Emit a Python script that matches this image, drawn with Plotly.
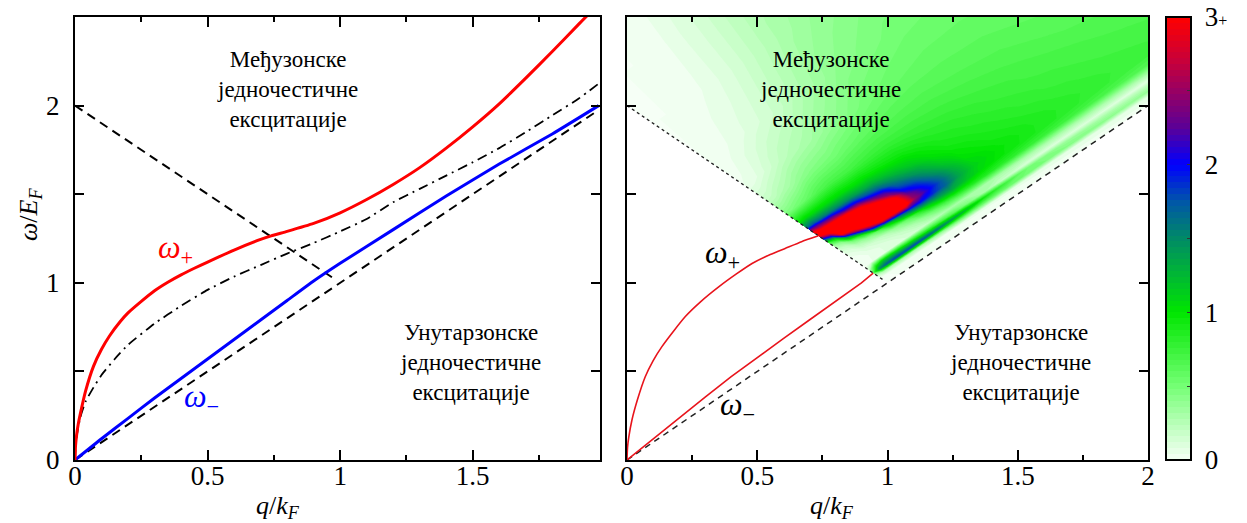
import numpy as np
import plotly.graph_objects as go

# ---------------- left panel: plasmon dispersions (q/kF, ω/EF) ----------------
q_plus_l = [0, 0.002, 0.006, 0.012, 0.02, 0.04, 0.07, 0.1, 0.13, 0.17, 0.2, 0.25, 0.3, 0.35,
            0.4, 0.45, 0.5, 0.6, 0.7, 0.74, 0.8, 0.9, 1.0, 1.1, 1.2, 1.3, 1.4, 1.5, 1.6, 1.7,
            1.8, 1.9, 1.96]
w_plus_l = [0, 0.08, 0.14, 0.2, 0.26, 0.39, 0.53, 0.625, 0.70, 0.78, 0.83, 0.895, 0.955, 1.003,
            1.045, 1.082, 1.117, 1.185, 1.245, 1.265, 1.29, 1.335, 1.395, 1.47, 1.555, 1.65,
            1.76, 1.88, 2.01, 2.155, 2.305, 2.46, 2.55]

q_minus_l = [0, 0.1, 0.2, 0.3, 0.4, 0.5, 0.6, 0.7, 0.8, 0.9, 1.0, 1.2, 1.4, 1.6, 1.8, 1.975]
w_minus_l = [0, 0.12, 0.235, 0.35, 0.46, 0.57, 0.68, 0.79, 0.90, 1.01, 1.11, 1.30, 1.49,
             1.67, 1.84, 2.0]

q_single = [0, 0.005, 0.02, 0.04, 0.07, 0.1, 0.15, 0.2, 0.3, 0.4, 0.5, 0.6, 0.7, 0.8, 0.9,
            1.0, 1.1, 1.2, 1.3, 1.4, 1.5, 1.6, 1.7, 1.8, 1.9, 1.98]
w_single = [0, 0.12, 0.24, 0.33, 0.41, 0.48, 0.57, 0.65, 0.77, 0.87, 0.96, 1.035, 1.10, 1.165,
            1.225, 1.29, 1.36, 1.455, 1.53, 1.605, 1.68, 1.76, 1.85, 1.945, 2.04, 2.13]

# particle-hole continuum edges
q_inter_edge_l = [0, 0.975]
w_inter_edge_l = [2, 1.025]
q_intra_edge_l = [0, 1.975]
w_intra_edge_l = [0, 1.975]

# ---------------- right panel ----------------
q_plus_r = [0, 0.002, 0.007, 0.019, 0.04, 0.07, 0.1, 0.134, 0.18, 0.224, 0.28, 0.352, 0.42,
            0.48, 0.55, 0.607, 0.67, 0.735]
w_plus_r = [0, 0.07, 0.13, 0.226, 0.34, 0.47, 0.56, 0.64, 0.73, 0.81, 0.89, 0.977, 1.05,
            1.109, 1.16, 1.194, 1.232, 1.265]

q_minus_r = [0, 0.1, 0.2, 0.3, 0.4, 0.5, 0.6, 0.7, 0.8, 0.9, 0.945]
w_minus_r = [0, 0.12, 0.24, 0.355, 0.47, 0.58, 0.685, 0.79, 0.895, 1.0, 1.055]

q_inter_edge_r = [0, 0.985]
w_inter_edge_r = [2, 1.015]
q_intra_edge_r = [0, 2]
w_intra_edge_r = [0, 2]

# loss function tabulated in continuum coordinates:
#   u = ω - q (height above the intraband edge), v = ω + q (interband edge at v = 2)
u_grid = [0.0, 0.05, 0.08, 0.11, 0.14, 0.18, 0.23, 0.28, 0.33, 0.37, 0.41, 0.45, 0.49, 0.53,
          0.57, 0.62, 0.68, 0.78, 0.92, 1.1, 1.4, 1.8, 2.2, 2.6]
v_grid = [2.0, 2.05, 2.1, 2.17, 2.25, 2.33, 2.42, 2.5, 2.58, 2.67, 2.77, 2.88, 3.0, 3.2, 3.45,
          3.75, 4.1, 4.6]
loss = [
    # v = 2.0
    [0, 0, 0.15, 0.6, 0.2, 0, 0, 0.03, 0.08, 0.15, 0.3, 0.7, 1.8, 3.1, 3.0, 1.6, 1.0, 0.45, 0.2, 0.04, 0, 0, 0, 0],
    # v = 2.05
    [0, 0, 0.3, 1.5, 0.9, 0.03, 0.02, 0.05, 0.12, 0.22, 0.45, 1.1, 2.5, 3.6, 2.7, 1.7, 1.05, 0.48, 0.22, 0.05, 0.01, 0, 0, 0],
    # v = 2.1
    [0, 0.01, 0.3, 1.7, 1.2, 0.06, 0.05, 0.1, 0.25, 0.5, 1.3, 3.1, 3.7, 3.6, 2.6, 1.6, 1.05, 0.52, 0.27, 0.08, 0.02, 0, 0, 0],
    # v = 2.17
    [0, 0.02, 0.3, 1.8, 1.2, 0.08, 0.08, 0.15, 0.38, 0.9, 2.5, 3.5, 3.8, 3.4, 2.5, 1.55, 1.05, 0.58, 0.32, 0.13, 0.04, 0.01, 0, 0],
    # v = 2.25
    [0, 0.02, 0.3, 1.8, 1.1, 0.1, 0.12, 0.22, 0.6, 2.2, 3.5, 3.8, 3.7, 3.3, 2.2, 1.5, 1.05, 0.66, 0.4, 0.19, 0.06, 0.02, 0, 0],
    # v = 2.33
    [0, 0.02, 0.3, 1.8, 1.0, 0.12, 0.18, 0.38, 1.1, 3.0, 3.6, 3.7, 3.5, 2.9, 2.1, 1.45, 1.05, 0.7, 0.45, 0.24, 0.09, 0.03, 0.01, 0],
    # v = 2.42
    [0, 0.03, 0.35, 1.7, 0.9, 0.15, 0.28, 0.55, 1.6, 3.2, 3.6, 3.5, 3.0, 2.3, 1.8, 1.35, 1.02, 0.71, 0.48, 0.28, 0.12, 0.05, 0.02, 0],
    # v = 2.5
    [0, 0.03, 0.4, 1.6, 0.8, 0.2, 0.4, 0.8, 1.9, 3.3, 3.3, 3.1, 2.4, 2.05, 1.65, 1.3, 1.02, 0.72, 0.5, 0.31, 0.15, 0.08, 0.04, 0.01],
    # v = 2.58
    [0, 0.04, 0.5, 1.45, 0.7, 0.25, 0.55, 1.1, 2.0, 2.5, 2.4, 2.1, 1.85, 1.65, 1.45, 1.2, 0.98, 0.74, 0.54, 0.35, 0.19, 0.11, 0.07, 0.02],
    # v = 2.67
    [0, 0.05, 0.55, 1.3, 0.6, 0.3, 0.7, 1.3, 1.9, 2.1, 2.0, 1.85, 1.65, 1.45, 1.28, 1.12, 0.95, 0.76, 0.57, 0.39, 0.24, 0.15, 0.1, 0.05],
    # v = 2.77
    [0, 0.05, 0.55, 1.1, 0.45, 0.3, 0.8, 1.35, 1.7, 1.75, 1.65, 1.5, 1.38, 1.28, 1.15, 1.05, 0.93, 0.77, 0.6, 0.43, 0.29, 0.2, 0.14, 0.08],
    # v = 2.88
    [0, 0.05, 0.55, 0.9, 0.3, 0.3, 0.85, 1.2, 1.35, 1.35, 1.3, 1.2, 1.12, 1.05, 1.0, 0.95, 0.88, 0.76, 0.62, 0.48, 0.34, 0.25, 0.19, 0.11],
    # v = 3.0
    [0, 0.05, 0.55, 0.75, 0.2, 0.3, 0.85, 1.05, 1.1, 1.08, 1.03, 1.0, 0.97, 0.93, 0.9, 0.87, 0.83, 0.75, 0.64, 0.52, 0.4, 0.3, 0.24, 0.15],
    # v = 3.2
    [0, 0.06, 0.5, 0.5, 0.12, 0.3, 0.8, 0.95, 0.97, 0.95, 0.92, 0.9, 0.88, 0.86, 0.84, 0.82, 0.79, 0.73, 0.65, 0.56, 0.45, 0.36, 0.29, 0.2],
    # v = 3.45
    [0, 0.07, 0.45, 0.38, 0.1, 0.3, 0.75, 0.87, 0.88, 0.87, 0.85, 0.83, 0.81, 0.8, 0.78, 0.76, 0.74, 0.7, 0.64, 0.58, 0.5, 0.41, 0.34, 0.25],
    # v = 3.75
    [0, 0.08, 0.42, 0.3, 0.1, 0.3, 0.7, 0.8, 0.81, 0.8, 0.78, 0.77, 0.75, 0.74, 0.73, 0.71, 0.7, 0.67, 0.63, 0.58, 0.52, 0.45, 0.38, 0.3],
    # v = 4.1
    [0, 0.08, 0.38, 0.26, 0.08, 0.3, 0.65, 0.74, 0.75, 0.74, 0.73, 0.72, 0.71, 0.7, 0.69, 0.68, 0.66, 0.63, 0.6, 0.57, 0.52, 0.47, 0.42, 0.38],
    # v = 4.6
    [0, 0.08, 0.35, 0.24, 0.08, 0.3, 0.6, 0.69, 0.7, 0.7, 0.69, 0.68, 0.67, 0.66, 0.65, 0.64, 0.63, 0.6, 0.58, 0.55, 0.5, 0.47, 0.43, 0.4],
]

cbar_vals = [0, 0.5, 1, 1.5, 2, 2.5, 3]
cbar_text = ["\u00a00", "", "\u00a01", "", "\u00a02", "",
             "\u00a03<span style='font-size:16px'>+</span>"]

x_ticks_l = [0, 0.5, 1, 1.5]
x_ticks_r = [0, 0.5, 1, 1.5, 2]
x_minor = [0.25, 0.75, 1.25, 1.75]
y_ticks = [0, 0.5, 1, 1.5, 2, 2.5]
y_text_l = ["0", "", "1", "", "2", ""]

SERIF = "Liberation Serif"

palette = [
    [0.0, "#f6fff6"], [0.083, "#b8ffb8"], [0.167, "#74ff74"], [0.333, "#00e600"],
    [0.5, "#008a66"], [0.583, "#0056a8"], [0.667, "#0000ff"], [0.75, "#5c0096"],
    [0.9, "#c8003a"], [1.0, "#ff0000"],
]

# carpet geometry: (u, v) -> (q, ω)
U, V = np.meshgrid(u_grid, v_grid)
carpet_x = (V - U) / 2.0
carpet_y = (V + U) / 2.0

fig = go.Figure()

hidden_axis = dict(showgrid=False, showline=False, showticklabels="none", startline=False,
                   endline=False, minorgridcount=0, gridwidth=0, linewidth=0, smoothing=0)
fig.add_trace(go.Carpet(a=u_grid, b=v_grid, x=carpet_x, y=carpet_y, carpet="cone",
                        xaxis="x2", yaxis="y2", aaxis=hidden_axis, baxis=hidden_axis))
fig.add_trace(go.Contourcarpet(
    a=u_grid, b=v_grid, z=loss, carpet="cone", xaxis="x2", yaxis="y2",
    colorscale=palette, zmin=0, zmax=3, autocontour=False,
    contours=dict(start=0, end=3, size=0.04, coloring="fill", showlines=False),
    line=dict(width=0, smoothing=0),
    colorbar=dict(x=1166 / 1247, xanchor="left", xpad=0, ypad=0,
                  y=63 / 523, yanchor="bottom", len=443 / 523, lenmode="fraction",
                  thickness=25, thicknessmode="pixels",
                  outlinewidth=2, outlinecolor="black",
                  tickvals=cbar_vals, ticktext=cbar_text, ticks="inside", ticklen=5,
                  tickcolor="#333333", tickfont=dict(family=SERIF, size=27, color="black")),
))

# left panel lines
fig.add_trace(go.Scatter(x=q_inter_edge_l, y=w_inter_edge_l, mode="lines", xaxis="x", yaxis="y",
                         line=dict(color="black", width=2, dash="9px,6px")))
fig.add_trace(go.Scatter(x=q_intra_edge_l, y=w_intra_edge_l, mode="lines", xaxis="x", yaxis="y",
                         line=dict(color="black", width=2, dash="9px,6px")))
fig.add_trace(go.Scatter(x=q_single, y=w_single, mode="lines", xaxis="x", yaxis="y",
                         line=dict(color="black", width=1.8, dash="10px,5px,2px,5px",
                                   shape="spline", smoothing=0.5)))
fig.add_trace(go.Scatter(x=q_minus_l, y=w_minus_l, mode="lines", xaxis="x", yaxis="y",
                         line=dict(color="#0000ff", width=3, shape="spline", smoothing=0.5)))
fig.add_trace(go.Scatter(x=q_plus_l, y=w_plus_l, mode="lines", xaxis="x", yaxis="y",
                         line=dict(color="#ff0000", width=3, shape="spline", smoothing=0.5)))

# right panel lines
fig.add_trace(go.Scatter(x=q_inter_edge_r, y=w_inter_edge_r, mode="lines", xaxis="x2", yaxis="y2",
                         line=dict(color="#222222", width=1.3, dash="3px,3px")))
fig.add_trace(go.Scatter(x=q_intra_edge_r, y=w_intra_edge_r, mode="lines", xaxis="x2", yaxis="y2",
                         line=dict(color="#222222", width=1.5, dash="6px,5px")))
fig.add_trace(go.Scatter(x=q_plus_r, y=w_plus_r, mode="lines", xaxis="x2", yaxis="y2",
                         line=dict(color="#e8141c", width=1.6, shape="spline", smoothing=0.5)))
fig.add_trace(go.Scatter(x=q_minus_r, y=w_minus_r, mode="lines", xaxis="x2", yaxis="y2",
                         line=dict(color="#e8141c", width=1.6)))

frame = dict(showline=True, linewidth=2, linecolor="black", mirror="allticks",
             ticks="inside", tickcolor="black", tickwidth=1.5, showgrid=False, zeroline=False,
             tickfont=dict(family=SERIF, size=27, color="black"))

x_dom_l = [75 / 1247, 600 / 1247]
x_dom_r = [627 / 1247, 1148 / 1247]
y_dom = [63 / 523, 506 / 523]

fig.update_layout(
    width=1247, height=523, margin=dict(l=0, r=0, t=0, b=0, autoexpand=False),
    paper_bgcolor="white", plot_bgcolor="white", showlegend=False,
    xaxis=dict(domain=x_dom_l, range=[0, 1.98], anchor="y", tickvals=x_ticks_l,
               ticktext=[str(t) for t in x_ticks_l], ticklen=10,
               minor=dict(tickvals=x_minor, ticks="inside", ticklen=5, tickcolor="black"),
               ticklabelstandoff=-9, **frame),
    yaxis=dict(domain=y_dom, range=[0, 2.5], anchor="x", tickvals=y_ticks, ticktext=y_text_l,
               ticklen=9, ticklabelstandoff=8, **frame),
    xaxis2=dict(domain=x_dom_r, range=[0, 2], anchor="y2", tickvals=x_ticks_r,
                ticktext=[str(t) for t in x_ticks_r], ticklen=10,
                minor=dict(tickvals=x_minor, ticks="inside", ticklen=5, tickcolor="black"),
                ticklabelstandoff=-9, **frame),
    yaxis2=dict(domain=y_dom, range=[0, 2.5], anchor="x2", tickvals=y_ticks,
                showticklabels=False, ticklen=9, **frame),
)

label_font = dict(family=SERIF, size=23, color="black")
inter_text = "Међузонске<br>једночестичне<br>ексцитације"
intra_text = "Унутарзонске<br>једночестичне<br>ексцитације"
annotations = [
    dict(x=0.80, y=2.09, xref="x", yref="y", text=inter_text),
    dict(x=1.49, y=0.55, xref="x", yref="y", text=intra_text),
    dict(x=0.78, y=2.09, xref="x2", yref="y2", text=inter_text),
    dict(x=1.51, y=0.55, xref="x2", yref="y2", text=intra_text),
]
for a in annotations:
    a.update(showarrow=False, font=label_font, align="center")

omega_font = 32
annotations += [
    dict(x=0.38, y=1.19, xref="x", yref="y", text="<i>ω</i><sub>+</sub>",
         font=dict(family=SERIF, size=omega_font, color="#ff0000"), showarrow=False),
    dict(x=0.478, y=0.345, xref="x", yref="y", text="<i>ω</i><sub>−</sub>",
         font=dict(family=SERIF, size=omega_font, color="#0000ff"), showarrow=False),
    dict(x=0.368, y=1.16, xref="x2", yref="y2", text="<i>ω</i><sub>+</sub>",
         font=dict(family=SERIF, size=omega_font, color="black"), showarrow=False),
    dict(x=0.424, y=0.30, xref="x2", yref="y2", text="<i>ω</i><sub>−</sub>",
         font=dict(family=SERIF, size=omega_font, color="black"), showarrow=False),
]
axis_font = dict(family=SERIF, size=26, color="black")
for xp in (278, 832):
    annotations.append(dict(x=xp / 1247, y=(523 - 507) / 523, xref="paper", yref="paper",
                            xanchor="center", yanchor="middle", showarrow=False,
                            text="<i>q</i>/<i>k</i><sub><i>F</i></sub>", font=axis_font))
annotations.append(dict(x=30 / 1247, y=(523 - 215) / 523, xref="paper", yref="paper",
                        xanchor="center", yanchor="middle", showarrow=False, textangle=-90,
                        text="<i>ω</i>/<i>E</i><sub><i>F</i></sub>", font=axis_font))
fig.update_layout(annotations=annotations)

fig.write_html("out.html")
